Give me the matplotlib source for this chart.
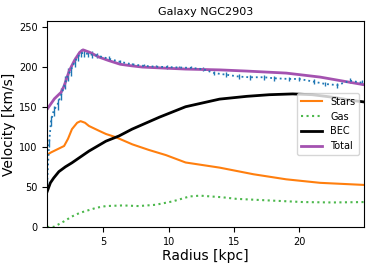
import matplotlib
matplotlib.use('Agg')
import matplotlib.pyplot as plt
import numpy as np

# observed rotation curve
r_obs = [0.7, 0.85, 1.0, 1.2, 1.5, 1.8, 2.1, 2.3, 2.5, 2.8, 3.05, 3.3, 3.55, 3.8, 4.1,
         4.5, 5.4, 6.3, 7.2, 8.1, 9.0, 9.9, 10.8, 11.7, 12.6, 13.5, 14.4, 15.4, 16.2,
         17.3, 18.1, 19.2, 20.0, 21.1, 22.0, 22.9, 23.9, 24.8]
v_obs = [53, 105, 132, 145, 153, 166, 180, 190, 195, 206, 212, 217, 217, 216, 215,
         214, 210, 206, 203, 201, 200, 199.5, 199, 198.5, 197, 192, 190, 187.6, 186.8,
         186.8, 185.5, 184.7, 184.7, 181.3, 178.4, 177, 182.5, 180]
v_err = [5, 5, 6, 6, 7, 7, 8, 8, 7, 6, 5, 5, 5, 4, 4,
         3, 3, 2, 2, 2, 2, 2, 2, 2, 2, 3, 3, 3, 3,
         3, 3, 3, 3, 3, 3, 3, 3, 3]

# model components
r_star = [0.7, 1.0, 1.5, 2.0, 2.3, 2.6, 3.0, 3.26, 3.6, 3.9, 4.67, 5.2, 5.95, 7.23,
          8.5, 9.8, 11.3, 13.9, 16.5, 19.0, 21.6, 24.95]
v_star = [90, 93, 97, 101, 110, 122, 130, 132, 130, 126, 120, 116, 112, 103,
          96, 89.6, 80.4, 74, 65.7, 59.4, 55, 52.4]

r_gas = [0.7, 1.2, 1.6, 2.0, 2.6, 3.2, 3.9, 4.5, 5.2, 6.5, 7.7, 9.0, 10.3, 11.6,
         12.4, 14.1, 15.2, 17.7, 20.3, 22.5, 24.95]
v_gas = [0, 0, 3.4, 7, 13, 17.5, 21, 24, 26, 26.8, 26, 27.6, 31.8, 38,
         39, 37, 35, 33, 31, 30.5, 31]

r_bec = [0.7, 0.95, 1.2, 1.6, 2.1, 2.6, 3.9, 5.2, 6.2, 7.2, 9.3, 11.3, 13.9, 16.0,
         17.7, 19.5, 21.0, 22.5, 24.0, 24.95]
v_bec = [44, 55, 61, 69, 75, 80, 94.6, 107, 113.5, 122, 137, 150, 159.5, 163,
         165, 166, 165, 162, 158, 156]

r_tot = [0.62, 1.26, 1.77, 2.0, 2.4, 2.8, 3.2, 3.45, 3.95, 4.67, 5.4, 6.3, 7.2, 8.0,
         9.3, 11.3, 13.9, 16.0, 19.0, 21.6, 23.0, 24.95]
v_tot = [145, 160, 168, 176, 195, 208, 218, 221, 218, 212, 207.7, 203, 201, 199.5,
         198.5, 197, 196, 194.5, 192, 187, 183, 177.5]

fig = plt.figure(figsize=(3.74, 2.66), dpi=100)
ax = fig.add_axes([0.126, 0.147, 0.847, 0.774])

ax.errorbar(r_obs, v_obs, yerr=v_err, fmt=':', color='C0', lw=1.3, elinewidth=1)
ax.plot(r_star, v_star, color='C1', lw=1.5, label='Stars')
ax.plot(r_gas, v_gas, ':', color='#4cb84c', lw=1.5, label='Gas')
ax.plot(r_bec, v_bec, color='black', lw=2, label='BEC')
ax.plot(r_tot, v_tot, color='#a452b0', lw=2, label='Total')

ax.set_xlim(0.7, 24.95)
ax.set_ylim(0, 257)
ax.set_xticks([5, 10, 15, 20])
ax.set_yticks([0, 50, 100, 150, 200, 250])
ax.tick_params(labelsize=7)
ax.set_xlabel('Radius [kpc]', fontsize=10, labelpad=2)
ax.set_ylabel('Velocity [km/s]', fontsize=10, labelpad=2)
ax.set_title('Galaxy NGC2903', fontsize=8, pad=4)
ax.legend(loc='center right', fontsize=7, handlelength=2.2)

plt.savefig('out.png', dpi=100)
